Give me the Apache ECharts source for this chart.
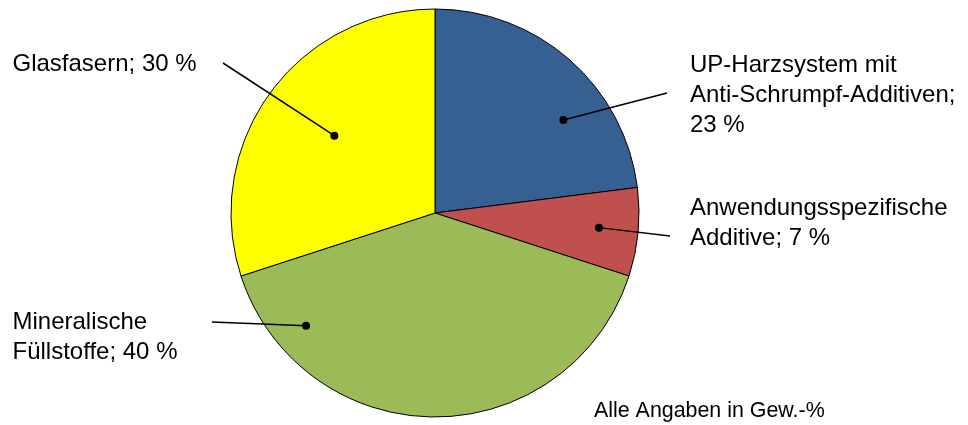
<!DOCTYPE html>
<html>
<head>
<meta charset="utf-8">
<script src="https://cdn.jsdelivr.net/npm/echarts@6/dist/echarts.min.js"></script>
<style>
  html, body { margin: 0; padding: 0; background: #ffffff; }
  #chart { width: 968px; height: 425px; }
</style>
</head>
<body>
<div id="chart"></div>
<script>
// Composition of the moulding compound (weight %)
const categories = [
  'UP-Harzsystem mit Anti-Schrumpf-Additiven',
  'Anwendungsspezifische Additive',
  'Mineralische Füllstoffe',
  'Glasfasern'
];
const shares = [23, 7, 40, 30];

// How each category name is broken over lines in its label
const nameLines = [
  ['UP-Harzsystem mit', 'Anti-Schrumpf-Additiven'],
  ['Anwendungsspezifische', 'Additive'],
  ['Mineralische', 'Füllstoffe'],
  ['Glasfasern']
];
const valueOnOwnLine = [true, false, false, false];
const sliceColors = ['#376092', '#C0504D', '#9BBB59', '#FFFF00'];
const footnote = 'Alle Angaben in Gew.-%';

// Layout of the pie and its callouts
const PIE_CX = 435, PIE_CY = 213, PIE_R = 204;
// where the leader dot sits inside its slice: share of the sweep, share of the radius
const dotSweep = [0.653, 0.488, 0.839, 0.514];
const dotRadius = [0.777, 0.807, 0.84, 0.622];
// outer end of each leader line
const lineEnds = [[667, 93], [670, 236], [212, 322], [223, 63]];
// left edge / vertical middle of each label block
const labelPos = [[690, 95.5], [690, 223.5], [12.5, 337.5], [12.5, 64]];

const total = shares.reduce((a, b) => a + b, 0);

// point inside slice i where its leader line starts
function dotPoint(i) {
  let before = 0;
  for (let k = 0; k < i; k++) before += shares[k];
  const start = 360 * before / total;
  const sweep = 360 * shares[i] / total;
  const theta = (start + dotSweep[i] * sweep) * Math.PI / 180;
  const r = dotRadius[i] * PIE_R;
  return [PIE_CX + r * Math.sin(theta), PIE_CY - r * Math.cos(theta)];
}

function labelText(i) {
  const lines = nameLines[i].slice();
  const valueText = shares[i] + ' %';
  const last = lines.length - 1;
  if (valueOnOwnLine[i]) {
    lines[last] = lines[last] + ';';
    lines.push(valueText);
  } else {
    lines[last] = lines[last] + '; ' + valueText;
  }
  return lines.join('\n');
}

const chart = echarts.init(document.getElementById('chart'), null, { renderer: 'canvas' });

// leader lines and dots are drawn on top of the slices
const leaders = [];
shares.forEach((_, i) => {
  const p = dotPoint(i);
  leaders.push({
    type: 'line',
    shape: { x1: p[0], y1: p[1], x2: lineEnds[i][0], y2: lineEnds[i][1] },
    style: { stroke: '#000000', lineWidth: 1.5 },
    z: 100
  });
  leaders.push({
    type: 'circle',
    shape: { cx: p[0], cy: p[1], r: 4 },
    style: { fill: '#000000' },
    z: 101
  });
});

chart.setOption({
  animation: false,
  backgroundColor: '#ffffff',
  textStyle: { fontFamily: 'Liberation Sans, Arial, sans-serif' },
  series: [{
    type: 'pie',
    center: [PIE_CX, PIE_CY],
    radius: PIE_R,
    startAngle: 90,
    clockwise: true,
    avoidLabelOverlap: false,
    emphasis: { disabled: true },
    itemStyle: { borderColor: '#000000', borderWidth: 1 },
    data: categories.map((c, i) => ({
      name: c,
      value: shares[i],
      itemStyle: { color: sliceColors[i] }
    })),
    label: {
      show: true,
      position: 'outside',
      color: '#000000',
      fontFamily: 'Liberation Sans, Arial, sans-serif',
      fontSize: 24,
      lineHeight: 30,
      formatter: p => labelText(p.dataIndex)
    },
    labelLine: { show: false },
    labelLayout: params => {
      const i = params.dataIndex;
      return {
        x: labelPos[i][0],
        y: labelPos[i][1],
        align: 'left',
        verticalAlign: 'middle'
      };
    }
  }],
  graphic: leaders.concat([{
    type: 'text',
    left: 594,
    top: 401,
    style: {
      text: footnote,
      fill: '#000000',
      font: '21.4px "Liberation Sans", Arial, sans-serif'
    },
    z: 100
  }])
});
</script>
</body>
</html>
